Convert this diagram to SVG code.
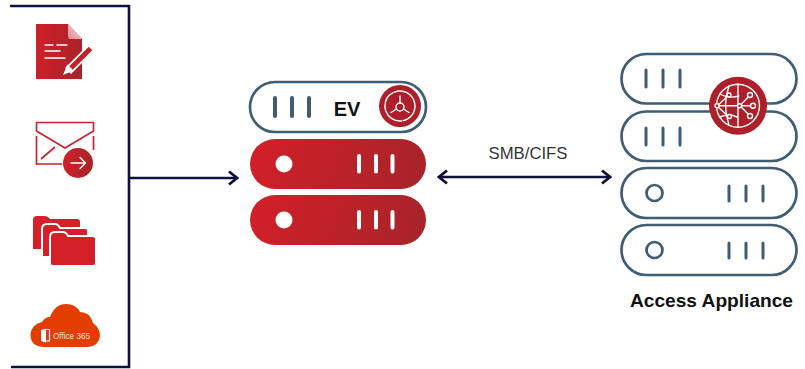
<svg xmlns="http://www.w3.org/2000/svg" width="805" height="369" viewBox="0 0 805 369">
<style>
.conn{fill:none;stroke:#10103a;stroke-width:2.6}
.pill{fill:#fff;stroke:#3f5d75;stroke-width:2.7}
.bar{stroke:#3f5d75;stroke-width:3;stroke-linecap:round}
.barb{stroke:#3f5d75;stroke-width:4;stroke-linecap:round}
.wbar{stroke:#fff;stroke-width:4;stroke-linecap:round}
.ring{fill:#fff;stroke:#3f5d75;stroke-width:2.7}
.w{fill:none;stroke:#fff;stroke-width:1.4;stroke-linecap:round;stroke-linejoin:round}
.t{font-family:"Liberation Sans",Arial,sans-serif;fill:#111}
</style>
<defs>
<linearGradient id="g" x1="0" y1="0" x2="1" y2="0.1"><stop offset="0" stop-color="#d31f28"/><stop offset="1" stop-color="#aa2329"/></linearGradient>
<linearGradient id="f" x1="0" y1="1" x2="1" y2="0"><stop offset="0" stop-color="#d9868a"/><stop offset="1" stop-color="#f6e6e6"/></linearGradient>
<marker id="chev" viewBox="0 0 12 16" refX="10" refY="8" markerWidth="12" markerHeight="16" markerUnits="userSpaceOnUse" orient="auto-start-reverse"><path d="M2 1.500L10 8L2 14.500" fill="none" stroke="#10103a" stroke-width="2.800"/></marker>
</defs>
<rect width="805" height="369" fill="#fff"/>
<g id="connectors">
<path class="conn" d="M10 6H129V367H11"/>
<path class="conn" d="M130 178H237" marker-end="url(#chev)"/>
<path class="conn" d="M439 177H610" marker-start="url(#chev)" marker-end="url(#chev)"/>
</g>
<g id="doc">
<path d="M36 24H68L82 39V79H36Z" fill="url(#g)"/>
<path d="M68 24L82 39H70Q68 39 68 37Z" fill="url(#f)"/>
<path class="w" d="M45 45H53M57 45H67M45 51H60M45 58H65" stroke-width="1.500"/>
<path d="M91 48L68 71" stroke="#fff" stroke-width="8.500"/>
<path d="M90.500 48.500L69 70" stroke="#c4202a" stroke-width="5"/>
<path d="M63 75L67.500 64.500L73.500 70.500Z" fill="#fff"/>
</g>
<g id="mail">
<path d="M36.500 165V136M36 122.500H93.500V131L65 148L36.500 131V122.500M93.500 136V150M36.500 164H62M41 159L55 147" fill="none" stroke="#c9252d" stroke-width="1.700"/>
<circle cx="78" cy="163" r="15" fill="url(#g)"/>
<path class="w" d="M71 163H85M80 157.500L85.500 163L80 168.500" stroke-width="1.100"/>
</g>
<g id="folders" fill="#d5202a" stroke="#fff" stroke-width="2">
<path d="M33 249V220Q33 216 37 216H44Q48 216 50 219H77Q80 219 80 222V249Z" stroke="none"/>
<path d="M42 257V229Q42 224 47 224H55Q58 224 60 228H86Q88 228 88 231V257Z"/>
<path d="M50 264V237Q50 232 55 232H63Q66 232 68 236H93Q96 236 96 239V263Q96 266 93 266H53Q50 266 50 264Z"/>
</g>
<g id="office365">
<path d="M43 347Q30 346 30.500 334Q32 324 42 322Q45 317 50 317Q55 304 66 304Q76 304 80 312Q90 312 93 323Q100 328 100 336Q99 346 88 347Z" fill="#e33e00"/>
<path d="M41 330L46 328.500V342.500L41 341Z" fill="#fff"/>
<path d="M46 329.500H49.500V341H46" fill="none" stroke="#fff" stroke-width="1.200"/>
<text x="53" y="339" font-family="'Liberation Sans',sans-serif" font-size="9.500" fill="#fff" fill-opacity="0.9" textLength="37" lengthAdjust="spacingAndGlyphs">Office 365</text>
</g>
<g id="ev">
<rect class="pill" x="250" y="82" width="176" height="50" rx="25"/>
<path class="barb" d="M275 98V116M292 98V116M309 98V116"/>
<text class="t" x="347" y="116" font-size="20" font-weight="700" text-anchor="middle">EV</text>
<circle cx="400" cy="106" r="21" fill="#ae2029"/>
<circle class="w" cx="400" cy="106" r="15" stroke-dasharray="20 1.500"/>
<circle class="w" cx="400" cy="107" r="4"/>
<path class="w" d="M400 103V96M396.500 109L391 112.500M403.500 109L409 112.500"/>
</g>
<g id="ev-2">
<rect x="250" y="139" width="176" height="50" rx="25" fill="url(#g)"/>
<circle cx="284" cy="164" r="8.500" fill="#fff"/>
<path class="wbar" d="M359 156V171.500M376 156V171.500M392.500 156V171.500"/>
</g>
<g id="ev-3">
<rect x="250" y="195" width="176" height="50" rx="25" fill="url(#g)"/>
<circle cx="284" cy="220" r="8.500" fill="#fff"/>
<path class="wbar" d="M359 212V227.500M376 212V227.500M392.500 212V227.500"/>
</g>
<text class="t" x="528" y="159" font-size="16.500" text-anchor="middle" style="fill:#333" textLength="79" lengthAdjust="spacingAndGlyphs">SMB/CIFS</text>
<g id="access-1">
<rect class="pill" x="621.500" y="54" width="175" height="49.500" rx="24.700"/>
<path class="bar" d="M646 70V87M663 70V87M680 70V87"/>
</g>
<g id="access-2">
<rect class="pill" x="621.500" y="111.500" width="175" height="49.500" rx="24.700"/>
<path class="bar" d="M646 128V145M663 128V145M680 128V145"/>
</g>
<g id="access-3">
<rect class="pill" x="621.500" y="168" width="175" height="50" rx="25"/>
<circle class="ring" cx="654.500" cy="193" r="8"/>
<path class="bar" d="M729 186V201M746 186V201M763 186V201"/>
</g>
<g id="access-4">
<rect class="pill" x="621.500" y="225" width="175" height="50" rx="25"/>
<circle class="ring" cx="654.500" cy="250" r="8"/>
<path class="bar" d="M729 243V258M746 243V258M763 243V258"/>
</g>
<g id="globe">
<circle cx="738" cy="105.700" r="29" fill="#ae2029"/>
<circle class="w" cx="738" cy="105.700" r="21.500"/>
<path class="w" d="M716.500 105.700H739M738 84.200V127.200M729 86Q722 105 729 125M719.500 94Q729 99 739 96M720 117Q729 113 737 117M729 95L717 106L729 117"/>
<path class="w" d="M740 105.700L750 95M740 105.700H753M740 105.700L750 116"/>
<g fill="#ae2029" stroke="#fff" stroke-width="1.400"><circle cx="717" cy="105.700" r="2"/><circle cx="729" cy="95" r="2"/><circle cx="729.500" cy="116.500" r="2"/><circle cx="739.500" cy="105.700" r="2"/><circle cx="750" cy="95" r="2.500"/><circle cx="753" cy="105.700" r="2.500"/><circle cx="750" cy="116" r="2.500"/></g>
</g>
<text class="t" x="711.500" y="307" font-size="18.500" font-weight="700" text-anchor="middle" textLength="163" lengthAdjust="spacingAndGlyphs">Access Appliance</text>
</svg>
